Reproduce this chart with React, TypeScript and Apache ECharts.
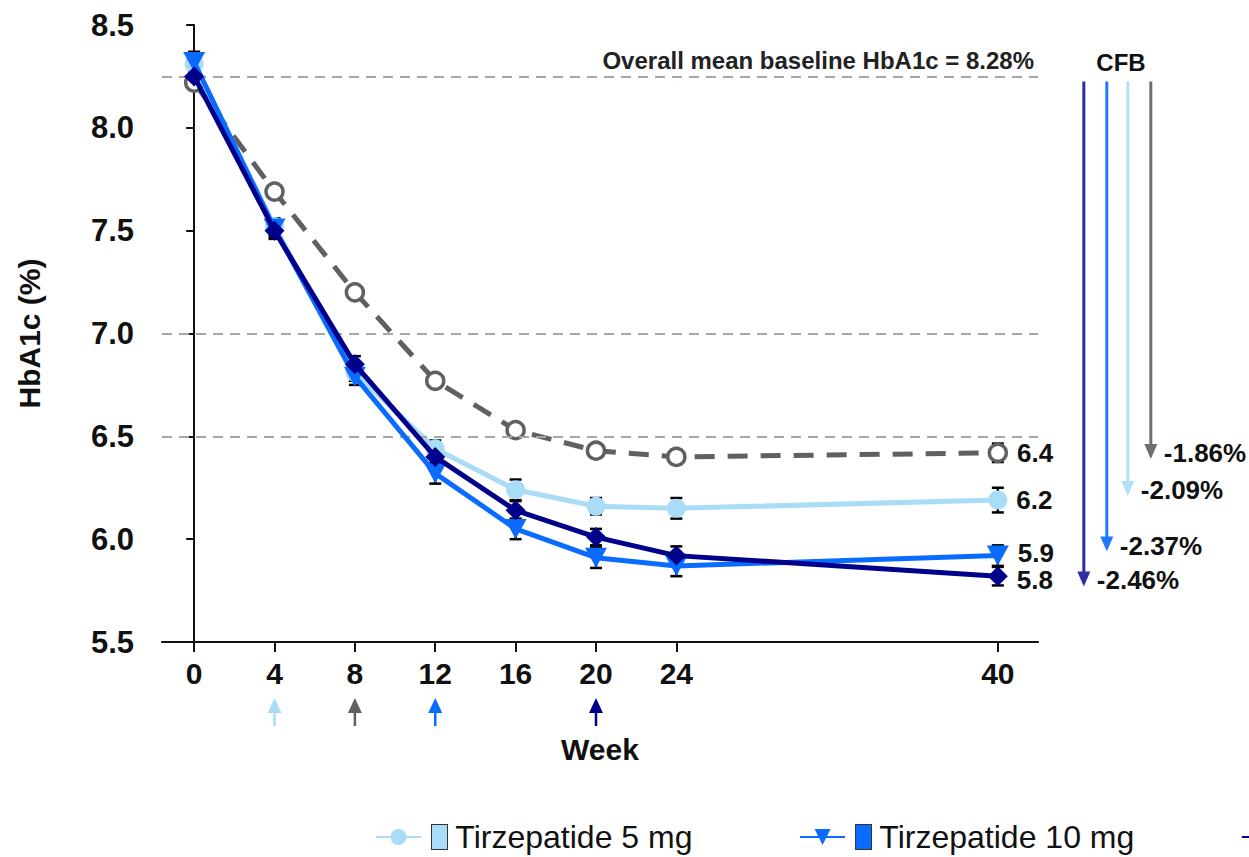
import React, { useEffect, useRef } from 'react';
import * as echarts from 'echarts';

const weeks = [0, 4, 8, 12, 16, 20, 24, 40];
const xTickWeeks = [0, 4, 8, 12, 16, 20, 24, 40];
const seriesNames = ['Tirzepatide 5 mg', 'Tirzepatide 10 mg', 'Tirzepatide 15 mg', 'Placebo'];
const tzp5 = [8.31, 7.52, 6.81, 6.44, 6.24, 6.16, 6.15, 6.19];
const tzp10 = [8.32, 7.51, 6.79, 6.32, 6.05, 5.91, 5.87, 5.92];
const tzp15 = [8.25, 7.5, 6.85, 6.4, 6.14, 6.01, 5.92, 5.82];
const placebo = [8.22, 7.69, 7.2, 6.77, 6.53, 6.43, 6.4, 6.42];
const tzp5Se = [0.04, 0.04, 0.04, 0.04, 0.05, 0.04, 0.05, 0.06];
const tzp10Se = [0.05, 0.04, 0.04, 0.05, 0.05, 0.05, 0.05, 0.05];
const tzp15Se = [0.04, 0.04, 0.04, 0.04, 0.045, 0.04, 0.045, 0.045];
const placeboSe = [0.03, 0.03, 0.03, 0.03, 0.03, 0.03, 0.035, 0.045];
const cfbLabels = ['-2.09%', '-2.37%', '-2.46%', '-1.86%'];
const cfbArrowTips = [6.21, 5.94, 5.77, 6.39];
const targetWeeks = [4, 12, 20, 8];
const refLines = [8.25, 7.0, 6.5];
const baselineText = 'Overall mean baseline HbA1c = 8.28%';
const yTicks = { min: 5.5, max: 8.5, interval: 0.5 };

const FONT = "'Liberation Sans', Arial, Helvetica, sans-serif";
const lineColors = ['#a9ddf7', '#0a6cff', '#00008b', '#606060'];
const arrowColors = ['#b0e0f8', '#1f78ff', '#2e2ea3', '#6e6e6e'];
const cfbOffsets = [130, 109, 86, 153];
const endLabelShift = [0, -3, 4, 0];

export default function App() {
  const ref = useRef<HTMLDivElement>(null);
  useEffect(() => {
    document.body.style.margin = '0';
    const chart = echarts.init(ref.current!, undefined, { renderer: 'svg' });
    const values = [tzp5, tzp10, tzp15, placebo];
    const ses = [tzp5Se, tzp10Se, tzp15Se, placeboSe];
    const symbols = ['circle', 'triangle', 'diamond', 'circle'];
    const symbolSizes: any[] = [19, [22, 20], 20, 17];

    const lineSeries = [3, 0, 1, 2].map((si) => ({
      type: 'line',
      name: seriesNames[si],
      z: 3 + [3, 0, 1, 2].indexOf(si),
      symbol: symbols[si],
      symbolSize: symbolSizes[si],
      symbolRotate: si === 1 ? 180 : 0,
      showAllSymbol: true,
      lineStyle: { color: lineColors[si], width: 5, type: si === 3 ? [20, 13] : 'solid' },
      itemStyle:
        si === 3
          ? { color: '#ffffff', borderColor: lineColors[si], borderWidth: 3.5 }
          : { color: lineColors[si] },
      emphasis: { disabled: true },
      data: weeks.map((w, i) => {
        const v = values[si][i];
        if (i === weeks.length - 1) {
          return {
            value: [w, v],
            label: {
              show: true,
              position: 'right',
              distance: 9,
              offset: [0, endLabelShift[si]],
              formatter: v.toFixed(1),
              fontFamily: FONT,
              fontSize: 26,
              lineHeight: 24,
              fontWeight: 'bold',
              color: '#111',
            },
          };
        }
        return { value: [w, v] };
      }),
      markLine:
        si === 3
          ? {
              silent: true,
              symbol: 'none',
              lineStyle: { color: '#a6a6a6', type: [10, 7], width: 2 },
              data: refLines.map((y, k) => ({
                yAxis: y,
                label:
                  k === 0
                    ? {
                        show: true,
                        position: 'insideEndTop',
                        distance: 4,
                        formatter: baselineText,
                        fontFamily: FONT,
                        fontSize: 24,
                        fontWeight: 'bold',
                        color: '#222',
                      }
                    : { show: false },
              })),
            }
          : undefined,
    }));

    const errData: any[] = [];
    values.forEach((vals, si) =>
      vals.forEach((v, i) => errData.push([weeks[i], v, ses[si][i]]))
    );

    const errorSeries = {
      type: 'custom',
      z: 1,
      clip: false,
      silent: true,
      data: errData,
      encode: { x: 0, y: 1 },
      renderItem: (params: any, api: any) => {
        const x = api.value(0);
        const v = api.value(1);
        const se = api.value(2);
        const hi = api.coord([x, v + se]);
        const lo = api.coord([x, v - se]);
        const hw = 6;
        const st = { stroke: '#000', lineWidth: 2.5 };
        return {
          type: 'group',
          children: [
            { type: 'line', shape: { x1: hi[0], y1: hi[1], x2: lo[0], y2: lo[1] }, style: st },
            { type: 'line', shape: { x1: hi[0] - hw, y1: hi[1], x2: hi[0] + hw, y2: hi[1] }, style: st },
            { type: 'line', shape: { x1: lo[0] - hw, y1: lo[1], x2: lo[0] + hw, y2: lo[1] }, style: st },
          ],
        };
      },
    };

    const cfbSeries = {
      type: 'custom',
      z: 5,
      clip: false,
      silent: true,
      data: cfbArrowTips.map((t, i) => [40, t, i]),
      encode: { x: 0, y: 1 },
      renderItem: (params: any, api: any) => {
        const idx = api.value(2);
        const base = api.coord([40, refLines[0]]);
        const tip = api.coord([40, api.value(1)]);
        const x = base[0] + cfbOffsets[idx];
        const top = base[1] + 5;
        const ty = tip[1];
        const c = arrowColors[idx];
        return {
          type: 'group',
          children: [
            { type: 'line', shape: { x1: x, y1: top, x2: x, y2: ty - 10 }, style: { stroke: c, lineWidth: 3 } },
            { type: 'polygon', shape: { points: [[x - 6.5, ty - 15], [x + 6.5, ty - 15], [x, ty]] }, style: { fill: c } },
            {
              type: 'text',
              x: x + 13,
              y: ty - 6,
              style: {
                text: cfbLabels[idx],
                fontFamily: FONT,
                fontSize: 26,
                fontWeight: 'bold',
                fill: '#111',
                align: 'left',
                verticalAlign: 'middle',
              },
            },
          ],
        };
      },
    };

    const targetSeries = {
      type: 'custom',
      z: 5,
      clip: false,
      silent: true,
      data: targetWeeks.map((w, i) => [w, yTicks.min, i]),
      encode: { x: 0, y: 1 },
      renderItem: (params: any, api: any) => {
        const idx = api.value(2);
        const p = api.coord([api.value(0), api.value(1)]);
        const x = p[0];
        const tipY = p[1] + 56;
        const c = lineColors[idx];
        return {
          type: 'group',
          children: [
            { type: 'polygon', shape: { points: [[x, tipY], [x - 7, tipY + 15], [x + 7, tipY + 15]] }, style: { fill: c } },
            { type: 'line', shape: { x1: x, y1: tipY + 12, x2: x, y2: tipY + 28 }, style: { stroke: c, lineWidth: 2.5 } },
          ],
        };
      },
    };

    const boxKeys = ['b0', 'b1', 'b2', 'b3'];
    const rich: any = { sp: { width: 6 } };
    boxKeys.forEach((k, i) => {
      rich[k] = {
        width: 15,
        height: 24,
        backgroundColor: i === 3 ? '#ffffff' : lineColors[i],
        borderColor: '#333',
        borderWidth: 1,
      };
    });

    chart.setOption({
      animation: false,
      backgroundColor: '#ffffff',
      grid: { left: 162, top: 25, width: 876, height: 617, containLabel: false, outerBoundsMode: 'none' },
      xAxis: {
        type: 'value',
        min: -1.6,
        max: 42,
        name: 'Week',
        nameLocation: 'middle',
        nameGap: 92,
        nameTextStyle: { fontFamily: FONT, fontSize: 30, fontWeight: 'bold', color: '#111' },
        axisLine: { show: true, onZero: false, lineStyle: { color: '#111', width: 2 } },
        axisTick: { show: true, customValues: xTickWeeks, length: 10, lineStyle: { color: '#111', width: 2 } },
        axisLabel: {
          customValues: xTickWeeks,
          margin: 16,
          fontFamily: FONT,
          fontSize: 30,
          fontWeight: 'bold',
          color: '#111',
        },
        splitLine: { show: false },
      },
      yAxis: {
        type: 'value',
        min: yTicks.min,
        max: yTicks.max,
        interval: yTicks.interval,
        name: 'HbA1c (%)',
        nameLocation: 'middle',
        nameGap: 118,
        nameRotate: 90,
        nameTextStyle: { fontFamily: FONT, fontSize: 30, fontWeight: 'bold', color: '#111' },
        axisLine: { show: true, lineStyle: { color: '#111', width: 2 } },
        axisTick: { show: true, length: 8, lineStyle: { color: '#111', width: 2 } },
        axisLabel: {
          margin: 28,
          fontFamily: FONT,
          fontSize: 31,
          fontWeight: 'bold',
          color: '#111',
          formatter: (v: number) => v.toFixed(1),
        },
        splitLine: { show: false },
      },
      legend: {
        data: seriesNames,
        left: 375,
        top: 820,
        width: 3000,
        itemGap: 106,
        itemWidth: 45,
        itemHeight: 20,
        padding: 0,
        selectedMode: false,
        textStyle: { fontFamily: FONT, fontSize: 32, lineHeight: 34, color: '#111', rich },
        formatter: (name: string) => `{sp| }{${boxKeys[seriesNames.indexOf(name)]}| } ${name}`,
      },
      graphic: [
        {
          type: 'text',
          x: 1121,
          y: 62,
          style: {
            text: 'CFB',
            fontFamily: FONT,
            fontSize: 24,
            fontWeight: 'bold',
            fill: '#111',
            align: 'center',
            verticalAlign: 'middle',
          },
        },
      ],
      series: [errorSeries, ...lineSeries, cfbSeries, targetSeries],
    });
    return () => chart.dispose();
  }, []);
  return <div ref={ref} style={{ width: 1249, height: 857 }} />;
}
